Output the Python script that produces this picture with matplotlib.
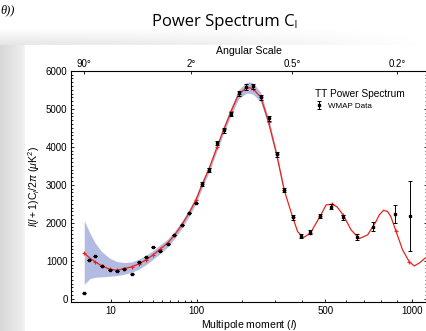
import numpy as np
import matplotlib
matplotlib.use('Agg')
import matplotlib.pyplot as plt
from matplotlib.ticker import FixedLocator, NullFormatter

plt.rcParams['font.family'] = ['Liberation Sans', 'DejaVu Sans']
plt.rcParams['mathtext.fontset'] = 'custom'
plt.rcParams['mathtext.rm'] = 'Liberation Sans'
plt.rcParams['mathtext.it'] = 'Liberation Sans:italic'

# WMAP binned data
data_l = [2, 3, 4.4, 6.3, 9.4, 12.8, 16.8, 21.6, 27.1, 33.3, 40, 47.9, 56.3,
          65.3, 75.7, 86.6, 98.3, 110, 124, 139.5, 155, 172.4, 190.7, 210, 231,
          253.5, 278, 304.6, 331.5, 363, 397, 434, 478, 529, 587, 658, 752, 890, 987]
data_v = [150, 1017, 1122, 867, 762, 728, 796, 649, 972, 1096, 1375, 1269, 1453,
          1682, 1953, 2252, 2531, 3014, 3398, 4108, 4434, 4862, 5406, 5572, 5590,
          5301, 4749, 3803, 2865, 2147, 1656, 1753, 2181, 2426, 2147, 1622, 1900, 2234, 2181]
data_err = [0] * 17 + [50, 50, 55, 60, 60, 65, 70, 70, 70, 70, 65, 60, 60, 55, 55,
                       60, 65, 70, 80, 113, 241, 911]

# best fit model curve
model_l = [2, 3.11, 4.41, 6.34, 9.37, 12.77, 16.8, 21.6, 27.1, 33.3, 40, 47.9, 56.3,
           65.3, 75.7, 86.6, 98.3, 110, 124, 139.5, 155, 172.4, 190.7, 210, 220, 231,
           253.5, 278, 304.6, 331.5, 363, 382, 405, 434, 478, 504, 530, 555, 587, 628,
           672, 719, 768, 788, 814, 840, 860, 892, 937, 982, 1017, 1052, 1096]
model_v = [1201, 1070, 972, 867, 781, 754, 796, 841, 920, 1025, 1156, 1314, 1464,
           1674, 1945, 2247, 2589, 3014, 3451, 3987, 4468, 4949, 5380, 5537, 5553, 5519,
           5301, 4644, 3803, 2857, 2147, 1769, 1611, 1727, 2189, 2470, 2489, 2426, 2208, 1813,
           1585, 1682, 2032, 2208, 2331, 2294, 2163, 1795, 1288, 980, 867, 938, 1070]

# cosmic variance band
band_l = [2, 3.11, 4.41, 6.34, 9.37, 12.77, 16.8, 21.6, 27.1, 33.3, 40, 47.9, 56.3,
          65.3, 75.7, 86.6, 98.3, 110, 124, 139.5, 155, 172.4, 190.7, 210, 220, 231,
          253.5, 278, 304.6, 331.5]
band_lo = [380, 534, 570, 578, 596, 613, 648, 701, 780, 902, 1042, 1200, 1360, 1580,
           1850, 2150, 2490, 2920, 3360, 3890, 4370, 4840, 5260, 5400, 5410, 5380, 5170,
           4540, 3720, 2800]
band_hi = [2058, 1727, 1464, 1243, 1069, 981, 955, 972, 1042, 1148, 1270, 1430, 1570,
           1770, 2040, 2340, 2690, 3110, 3540, 4080, 4570, 5060, 5500, 5680, 5710, 5670,
           5430, 4750, 3890, 2910]

bottom_ticks = [10, 100, 500, 1000]
bottom_minor = [20, 30, 40, 50, 60, 70, 80, 90, 200, 300, 400, 600, 700, 800, 900]
top_ticks = [2, 90, 360, 900]
top_labels = ['90°', '2°', '0.5°', '0.2°']


def fwd(l):
    return np.power(np.clip(l, 0, None), 0.4)


def inv(x):
    return np.power(np.clip(x, 0, None), 2.5)


fig = plt.figure(figsize=(4.26, 3.31), dpi=100)

# slide background
bg = fig.add_axes([0, 0, 1, 1], zorder=-10)
bg.set_xlim(0, 426)
bg.set_ylim(331, 0)
bg.axis('off')
left = np.linspace(0.84, 0.94, 50)[None, :]
bg.imshow(left, cmap='gray', vmin=0, vmax=1, extent=(0, 25, 331, 28), aspect='auto')
shade = np.linspace(1.0, 0.9, 40)[:, None] * np.ones((1, 200))
shade = shade + (1 - shade) * np.linspace(0, 1, 200)[None, :] ** 1.5
bg.imshow(shade, cmap='gray', vmin=0, vmax=1, extent=(0, 426, 45, 28), aspect='auto')
bg.fill_between([25, 426], 45, 331, color='white')
bg.text(0, 10, 'θ))', family='Liberation Serif', style='italic', fontsize=9,
        va='center', ha='left')
fig.text(0.528, 0.935, 'Power Spectrum Cₗ', family=['Open Sans', 'DejaVu Sans'],
         fontsize=12, ha='center', va='center')

ax = fig.add_axes([71 / 426, 28.7 / 331, 356 / 426, 231.6 / 331])
ax.set_xscale('function', functions=(fwd, inv))

ax.fill_between(band_l, band_lo, band_hi, color='#b2bbe2', lw=0, zorder=1)
bins = [i for i, l in enumerate(model_l) if min(abs(l - d) / d for d in data_l) < 0.02]
ax.plot(model_l, model_v, color='#e8241c', lw=0.9, marker='+', ms=2.5, mew=0.8,
        markevery=bins, zorder=2)
ax.errorbar(data_l, data_v, yerr=data_err, fmt='s', color='black', ms=1.8,
            elinewidth=0.7, capsize=1.5, capthick=0.7, zorder=3, label='WMAP Data')

ax.set_xlim(0.46, 1110)
ax.set_ylim(-90, 6000)

ax.xaxis.set_major_locator(FixedLocator(bottom_ticks))
ax.xaxis.set_minor_locator(FixedLocator(bottom_minor))
ax.set_xticklabels([str(t) for t in bottom_ticks])
ax.xaxis.set_minor_formatter(NullFormatter())
ax.set_yticks(np.arange(0, 6001, 1000))
ax.yaxis.set_minor_locator(FixedLocator(np.arange(0, 6001, 100)))
ax.tick_params(axis='both', which='both', direction='in', labelsize=7, width=0.6)
ax.tick_params(axis='y', which='both', right=True)
ax.tick_params(axis='both', which='major', length=2.4, pad=2.5)
ax.tick_params(axis='both', which='minor', length=1.4)
ax.tick_params(axis='x', which='major', pad=3)

ax.set_xlabel('Multipole moment ($\\mathit{l}$)', fontsize=7.6, labelpad=1)
ax.set_ylabel('$\\mathit{l}(\\mathit{l}+1)\\mathrm{C}_{\\mathit{l}}/2\\pi\\ (\\mu\\mathrm{K}^2)$',
              fontsize=7.6, labelpad=3)
for s in ax.spines.values():
    s.set_linewidth(0.7)

top = ax.twiny()
top.set_xscale('function', functions=(fwd, inv))
top.set_xlim(ax.get_xlim())
top.set_xticks(top_ticks)
top.set_xticklabels(top_labels)
top.xaxis.set_minor_locator(FixedLocator([]))
top.tick_params(axis='x', direction='in', labelsize=7, length=2.4, width=0.6, pad=1.5)
top.set_xlabel('Angular Scale', fontsize=7.6, labelpad=3)

leg = ax.legend(title='TT Power Spectrum', title_fontsize=7.3, fontsize=5.8,
                frameon=False, loc='upper right', bbox_to_anchor=(0.95, 0.94),
                alignment='left', handlelength=0.8, handletextpad=0.7, borderpad=0)

fig.savefig('out.png', dpi=100)
